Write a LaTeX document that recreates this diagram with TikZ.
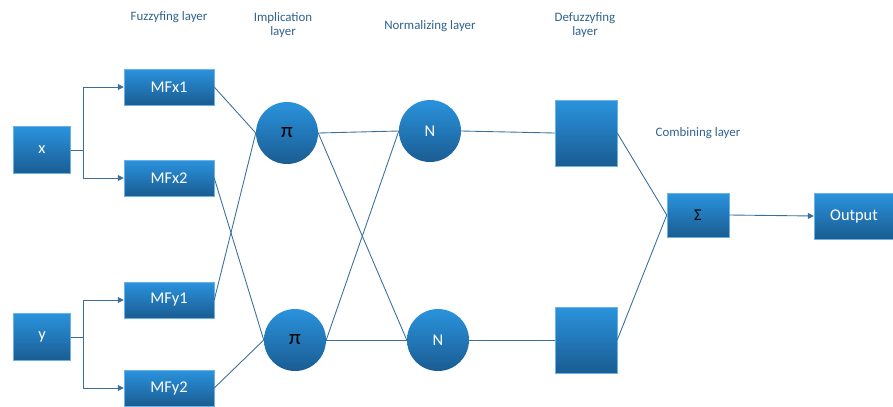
\documentclass[tikz,border=0pt]{standalone}
\usepackage{fontspec}
\setmainfont{Carlito}
\usetikzlibrary{arrows.meta}
\definecolor{boxtop}{HTML}{2A93DD}
\definecolor{boxbot}{HTML}{1A5C92}
\definecolor{wire}{HTML}{3A6F9C}
\definecolor{labelc}{HTML}{2F628F}
\tikzset{
  blk/.style={rectangle, draw=boxtop!70!white, line width=0.4pt,
    top color=boxtop, bottom color=boxbot, text=white,
    font=\fontsize{14}{16}\selectfont, inner sep=0pt},
  opcirc/.style={circle, top color=boxtop, bottom color=boxbot,
    draw=none, minimum size=62*0.03cm, inner sep=0pt,
    font=\fontsize{14}{16}\selectfont},
  symb/.style={font=\fontsize{18}{20}\selectfont, text=black},
  wireln/.style={draw=wire, line width=0.75pt},
  arr/.style={wireln, -{Triangle[length=5pt,width=5pt]}},
  lyr/.style={text=labelc, font=\fontsize{11}{12.5}\selectfont, align=center}
}
\begin{document}
\begin{tikzpicture}[x=0.03cm, y=-0.03cm]
\useasboundingbox (0,0) rectangle (893,406);
% inputs
\node[blk, minimum width=57*0.03cm, minimum height=47*0.03cm] (x) at (42,150) {x};
\node[blk, minimum width=57*0.03cm, minimum height=47*0.03cm] (y) at (42,337) {y};
% fuzzyfing layer
\foreach \n/\t/\yy in {mfxa/MFx1/87, mfxb/MFx2/178, mfya/MFy1/300, mfyb/MFy2/388}
  \node[blk, minimum width=90*0.03cm, minimum height=36*0.03cm] (\n) at (169,\yy) {\t};
% implication layer
\node[opcirc, symb] (pa) at (287,133) {π};
\node[opcirc, symb] (pb) at (295,340) {π};
% normalizing layer
\node[opcirc, text=white] (na) at (430,131) {N};
\node[opcirc, text=white] (nb) at (438,340) {N};
% defuzzyfing layer
\node[blk, minimum width=62*0.03cm, minimum height=66*0.03cm] (da) at (586,133) {};
\node[blk, minimum width=62*0.03cm, minimum height=66*0.03cm] (db) at (586,340) {};
% combining layer and output
\node[blk, minimum width=62*0.03cm, minimum height=44*0.03cm, text=black] (sg) at (698,215) {Σ};
\node[blk, minimum width=80*0.03cm, minimum height=46*0.03cm] (out) at (854,216) {Output};
% layer captions
\node[lyr] (l1) at (169,17) {Fuzzyfing layer};
\node[lyr] (l2) at (283,25) {Implication\\layer};
\node[lyr] (l3) at (430,26) {Normalizing layer};
\node[lyr] (l4) at (585,25) {Defuzzyfing\\layer};
\node[lyr] (l5) at (698,133) {Combining layer};
% branching input arrows
\coordinate (bx) at (83,150);
\coordinate (by) at (83,337);
\draw[wireln] (x.east) -- (bx);
\draw[arr] (bx) |- (mfxa.west);
\draw[arr] (bx) |- (mfxb.west);
\draw[wireln] (y.east) -- (by);
\draw[arr] (by) |- (mfya.west);
\draw[arr] (by) |- (mfyb.west);
% fuzzyfing to implication
\draw[wireln] (mfxa.east) -- (pa.west);
\draw[wireln] (mfya.east) -- (pa.west);
\draw[wireln] (mfxb.east) -- (pb.west);
\draw[wireln] (mfyb.east) -- (pb.west);
% implication to normalizing
\draw[wireln] (pa.east) -- (na.west);
\draw[wireln] (pa.east) -- (nb.west);
\draw[wireln] (pb.east) -- (na.west);
\draw[wireln] (pb.east) -- (nb.west);
% normalizing to defuzzyfing
\draw[wireln] (na.east) -- (da.west);
\draw[wireln] (nb.east) -- (db.west);
% defuzzyfing to combining
\draw[wireln] (da.east) -- (sg.west);
\draw[wireln] (db.east) -- (sg.west);
\draw[arr] (sg.east) -- (out.west);
\end{tikzpicture}
\end{document}
